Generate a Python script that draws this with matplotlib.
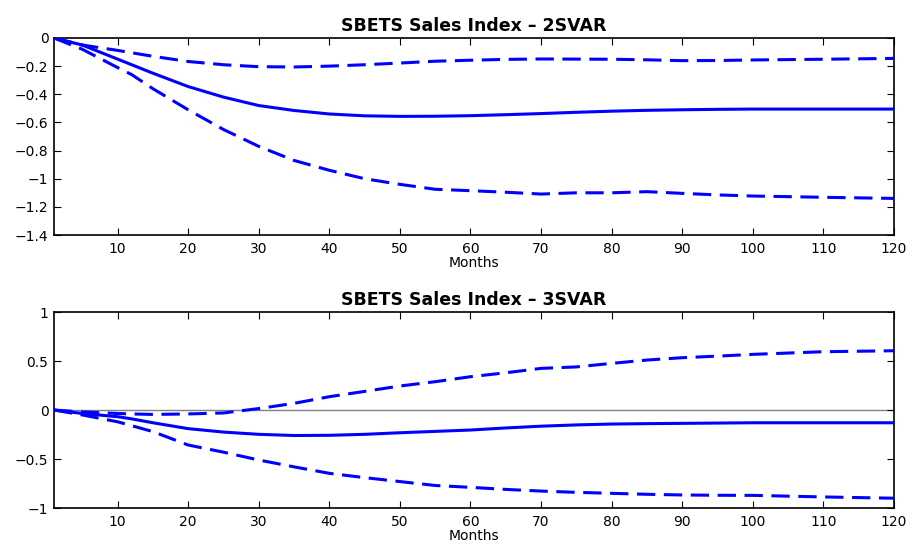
import matplotlib
matplotlib.use("Agg")
import matplotlib.pyplot as plt
import matplotlib.ticker as ticker
from matplotlib import rcParams

rcParams.update({
    "font.family": ["DejaVu Sans"],
    "font.size": 10,
})

months = [1, 5, 10, 12, 15, 20, 25, 30, 35, 40, 45, 50, 55, 60, 65, 70, 75, 80, 85, 90, 95, 100, 110, 120]

# 2SVAR
irf_2 = [0, -0.05, -0.15, -0.19, -0.25, -0.345, -0.42, -0.48, -0.515, -0.54, -0.553, -0.557, -0.556,
         -0.552, -0.545, -0.537, -0.528, -0.52, -0.514, -0.51, -0.507, -0.505, -0.505, -0.505]
up_2 = [0, -0.05, -0.088, -0.105, -0.13, -0.167, -0.19, -0.204, -0.206, -0.2, -0.19, -0.178, -0.165,
        -0.158, -0.152, -0.149, -0.15, -0.151, -0.155, -0.161, -0.16, -0.156, -0.151, -0.145]
lo_2 = [0, -0.08, -0.21, -0.26, -0.36, -0.51, -0.65, -0.77, -0.87, -0.94, -1.0, -1.04, -1.075,
        -1.085, -1.096, -1.109, -1.1, -1.1, -1.092, -1.104, -1.115, -1.123, -1.132, -1.14]

# 3SVAR
irf_3 = [0, -0.035, -0.068, -0.09, -0.13, -0.19, -0.225, -0.248, -0.26, -0.258, -0.248, -0.232, -0.218,
         -0.204, -0.183, -0.165, -0.152, -0.143, -0.139, -0.136, -0.133, -0.13, -0.13, -0.13]
up_3 = [0, -0.02, -0.035, -0.04, -0.045, -0.04, -0.03, 0.015, 0.068, 0.136, 0.19, 0.245, 0.289,
        0.34, 0.38, 0.425, 0.44, 0.476, 0.51, 0.534, 0.55, 0.568, 0.595, 0.605]
lo_3 = [0, -0.05, -0.12, -0.16, -0.22, -0.357, -0.43, -0.51, -0.58, -0.646, -0.69, -0.73, -0.77,
        -0.789, -0.81, -0.827, -0.84, -0.85, -0.86, -0.867, -0.87, -0.871, -0.887, -0.9]

titles = ["SBETS Sales Index \u2013 2SVAR", "SBETS Sales Index \u2013 3SVAR"]
xticks = [10, 20, 30, 40, 50, 60, 70, 80, 90, 100, 110, 120]
yticks_2 = [0, -0.2, -0.4, -0.6, -0.8, -1, -1.2, -1.4]
yticks_3 = [1, 0.5, 0, -0.5, -1]

fig = plt.figure(figsize=(9.11, 5.42), dpi=100)
ax1 = fig.add_axes([0.0593, 0.5664, 0.922, 0.3635])
ax2 = fig.add_axes([0.0593, 0.0627, 0.922, 0.3616])

dash = (6, 2.8)
panels = [
    (ax1, irf_2, up_2, lo_2, yticks_2, (-1.4, 0), titles[0]),
    (ax2, irf_3, up_3, lo_3, yticks_3, (-1, 1), titles[1]),
]
for ax, irf, up, lo, yt, ylim, title in panels:
    if ax is ax2:
        ax.axhline(0, color="#808080", lw=1, zorder=1)
    ax.plot(months, irf, color="blue", lw=2.2, zorder=3)
    ax.plot(months, up, color="blue", lw=2.2, dashes=dash, zorder=3)
    ax.plot(months, lo, color="blue", lw=2.2, dashes=dash, zorder=3)
    ax.set_xlim(1, 120)
    ax.set_ylim(*ylim)
    ax.set_xticks(xticks)
    ax.set_yticks(yt)
    ax.yaxis.set_major_formatter(ticker.FuncFormatter(lambda v, p: ("%g" % v).replace("-", "\u2212")))
    ax.tick_params(direction="in", top=True, right=True, length=5, width=0.8)
    ax.tick_params(axis="x", pad=5)
    ax.tick_params(axis="y", pad=4)
    for s in ax.spines.values():
        s.set_linewidth(1.2)
    ax.set_xlabel("Months", labelpad=0)
    ax.set_title(title, fontweight="bold", fontsize=12.5, pad=5)

plt.savefig("out.png", dpi=100)
